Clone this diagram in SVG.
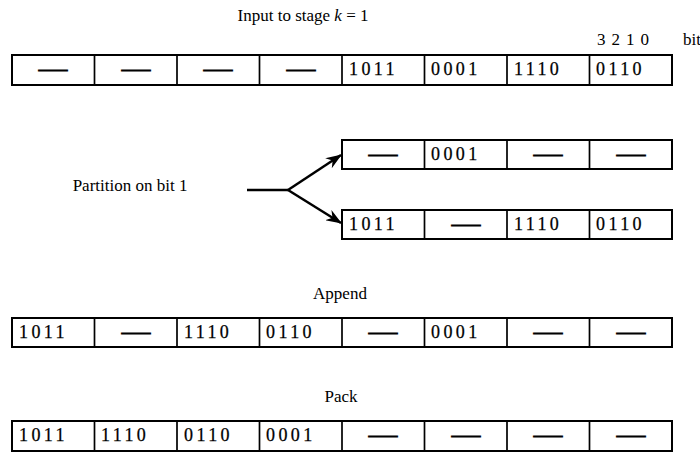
<svg xmlns="http://www.w3.org/2000/svg" width="700" height="453" viewBox="0 0 700 453">
<style>
.box{fill:#fff;stroke:#000;stroke-width:2}
.div{stroke:#000;stroke-width:1.7}
.d{font-family:"Liberation Serif","Times New Roman",serif;font-size:18px;letter-spacing:3.4px;fill:#000;stroke:#000;stroke-width:0.25}
.dash{font-family:"Liberation Serif","Times New Roman",serif;font-size:18px;fill:#000;stroke:#000;stroke-width:1.1;text-anchor:middle}
.lbl{font-family:"Liberation Serif","Times New Roman",serif;font-size:17px;fill:#000}
.c{text-anchor:middle}
.arr{stroke:#000;stroke-width:2.5;fill:none}
</style>
<defs>
<marker id="ah" viewBox="0 0 16 12" refX="15" refY="6" markerWidth="16" markerHeight="12" markerUnits="userSpaceOnUse" orient="auto">
<path d="M0,0 L16,6 L0,12 L5,6 z" fill="#000"/>
</marker>
</defs>

<g id="title">
<text class="lbl c" x="303" y="21">Input to stage <tspan font-style="italic">k</tspan> = 1</text>
<text class="lbl" x="597" y="45" textLength="52" lengthAdjust="spacing">3 2 1 0</text>
<text class="lbl" x="683" y="45">bit</text>
</g>

<g id="input-row">
<rect class="box" x="12" y="55" width="660" height="30"/>
<path class="div" d="M94.5,55V85M177,55V85M259.5,55V85M342,55V85M424.5,55V85M507,55V85M589.5,55V85"/>
<text class="dash" x="53" y="75" textLength="28" lengthAdjust="spacingAndGlyphs">—</text>
<text class="dash" x="136" y="75" textLength="28" lengthAdjust="spacingAndGlyphs">—</text>
<text class="dash" x="218" y="75" textLength="28" lengthAdjust="spacingAndGlyphs">—</text>
<text class="dash" x="301" y="75" textLength="28" lengthAdjust="spacingAndGlyphs">—</text>
<text class="d" x="349" y="75">1011</text>
<text class="d" x="431" y="75">0001</text>
<text class="d" x="514" y="75">1110</text>
<text class="d" x="596" y="75">0110</text>
</g>

<g id="partition-label">
<text class="lbl c" x="130" y="191">Partition on bit 1</text>
</g>

<g id="partition-upper">
<rect class="box" x="342" y="140" width="330" height="29"/>
<path class="div" d="M424.5,140V169M507,140V169M589.5,140V169"/>
<text class="dash" x="383" y="160" textLength="28" lengthAdjust="spacingAndGlyphs">—</text>
<text class="d" x="431" y="160">0001</text>
<text class="dash" x="548" y="160" textLength="28" lengthAdjust="spacingAndGlyphs">—</text>
<text class="dash" x="631" y="160" textLength="28" lengthAdjust="spacingAndGlyphs">—</text>
</g>

<g id="partition-lower">
<rect class="box" x="342" y="210" width="330" height="29"/>
<path class="div" d="M424.5,210V239M507,210V239M589.5,210V239"/>
<text class="d" x="349" y="230">1011</text>
<text class="dash" x="466" y="230" textLength="28" lengthAdjust="spacingAndGlyphs">—</text>
<text class="d" x="514" y="230">1110</text>
<text class="d" x="596" y="230">0110</text>
</g>

<g id="connectors">
<path class="arr" d="M247,190H288"/>
<path class="arr" d="M288,190L341,155" marker-end="url(#ah)"/>
<path class="arr" d="M288,190L341,223" marker-end="url(#ah)"/>
</g>

<g id="append-row">
<text class="lbl c" x="340" y="299">Append</text>
<rect class="box" x="12" y="318" width="660" height="29"/>
<path class="div" d="M94.5,318V347M177,318V347M259.5,318V347M342,318V347M424.5,318V347M507,318V347M589.5,318V347"/>
<text class="d" x="19" y="338">1011</text>
<text class="dash" x="136" y="338" textLength="28" lengthAdjust="spacingAndGlyphs">—</text>
<text class="d" x="184" y="338">1110</text>
<text class="d" x="266" y="338">0110</text>
<text class="dash" x="383" y="338" textLength="28" lengthAdjust="spacingAndGlyphs">—</text>
<text class="d" x="431" y="338">0001</text>
<text class="dash" x="548" y="338" textLength="28" lengthAdjust="spacingAndGlyphs">—</text>
<text class="dash" x="631" y="338" textLength="28" lengthAdjust="spacingAndGlyphs">—</text>
</g>

<g id="pack-row">
<text class="lbl c" x="341" y="402">Pack</text>
<rect class="box" x="12" y="421" width="660" height="30"/>
<path class="div" d="M94.5,421V451M177,421V451M259.5,421V451M342,421V451M424.5,421V451M507,421V451M589.5,421V451"/>
<text class="d" x="19" y="441">1011</text>
<text class="d" x="101" y="441">1110</text>
<text class="d" x="184" y="441">0110</text>
<text class="d" x="266" y="441">0001</text>
<text class="dash" x="383" y="441" textLength="28" lengthAdjust="spacingAndGlyphs">—</text>
<text class="dash" x="466" y="441" textLength="28" lengthAdjust="spacingAndGlyphs">—</text>
<text class="dash" x="548" y="441" textLength="28" lengthAdjust="spacingAndGlyphs">—</text>
<text class="dash" x="631" y="441" textLength="28" lengthAdjust="spacingAndGlyphs">—</text>
</g>
</svg>
